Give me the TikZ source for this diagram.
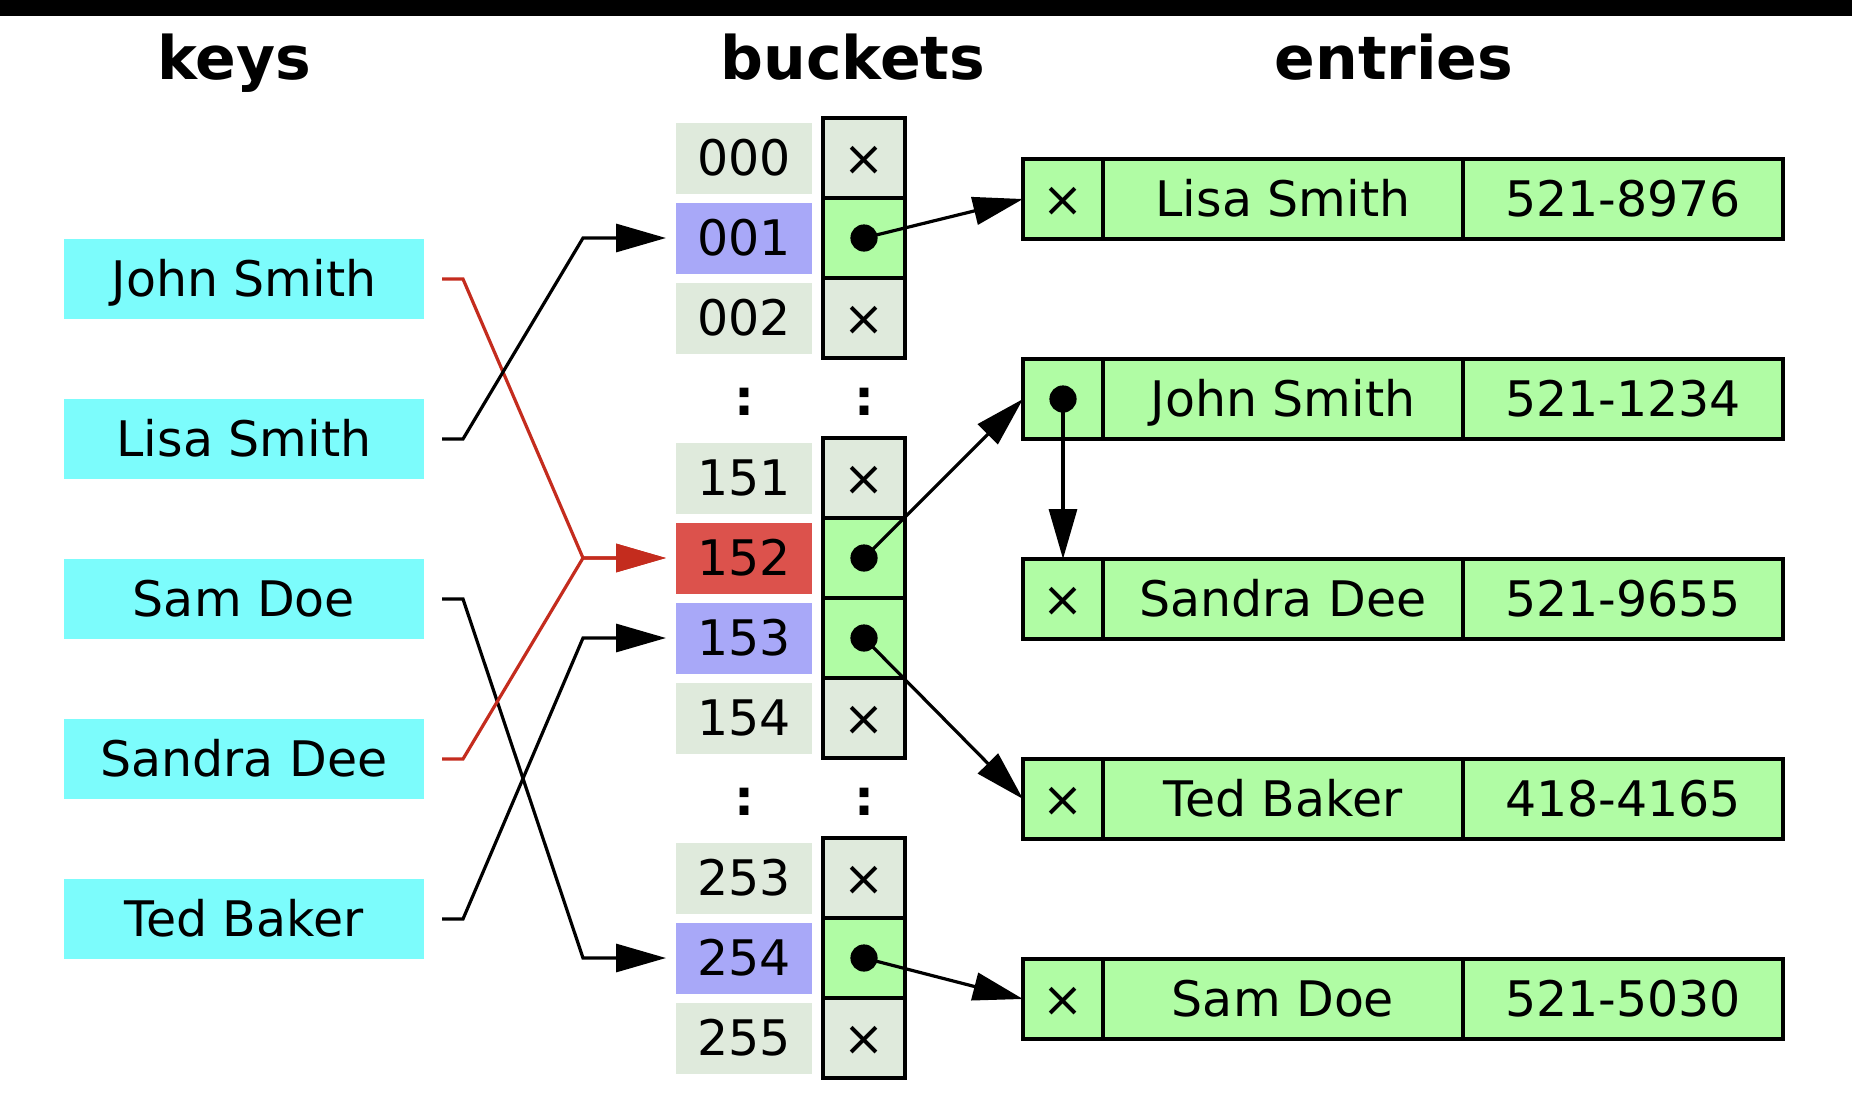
\documentclass[tikz,border=0pt]{standalone}
\usepackage{fontspec}
\setmainfont{DejaVu Sans}
\usetikzlibrary{positioning,arrows.meta}
\definecolor{keycyan}{RGB}{124,252,252}
\definecolor{idxgray}{RGB}{223,234,220}
\definecolor{idxblue}{RGB}{168,168,248}
\definecolor{idxred}{RGB}{220,82,76}
\definecolor{ptrgreen}{RGB}{176,252,164}
\definecolor{hashred}{RGB}{196,44,30}
\begin{document}
\begin{tikzpicture}[x=0.5pt,y=-0.5pt,
  txt/.style={font=\fontsize{24.5pt}{30pt}\selectfont,text height=17.9pt,text depth=0pt,inner sep=0pt,outer sep=0pt},
  title/.style={font=\fontsize{30pt}{36pt}\selectfont\bfseries,inner sep=0pt,anchor=base},
  colon/.style={font=\fontsize{25pt}{30pt}\selectfont\bfseries,inner sep=0pt,anchor=base},
  keybox/.style={txt,fill=keycyan,minimum width=180pt,minimum height=40pt},
  idx/.style={txt,minimum width=68pt,minimum height=35.5pt},
  ptr/.style={txt,draw,line width=1.6pt,minimum width=41pt,minimum height=40pt},
  cell/.style={txt,draw,fill=ptrgreen,line width=1.6pt,minimum height=40pt},
  xcell/.style={cell,minimum width=40pt},
  namecell/.style={cell,minimum width=180pt},
  telcell/.style={cell,minimum width=160pt},
  link/.style={-{Triangle[length=25pt,width=14pt]},line width=1.6pt}]
  \useasboundingbox (0,0) rectangle (1852,1092);
  \fill (0,0) rectangle (1852,16);
  % titles
  \node[title] (tkeys) at (234,79) {keys};
  \node[title] (tbuckets) at (853,79) {buckets};
  \node[title] (tentries) at (1394,79) {entries};
  % keys
  \node[keybox] (kjohn) at (244,279) {John Smith};
  \node[keybox,below=40pt of kjohn] (klisa) {Lisa Smith};
  \node[keybox,below=40pt of klisa] (ksam) {Sam Doe};
  \node[keybox,below=40pt of ksam] (ksandra) {Sandra Dee};
  \node[keybox,below=40pt of ksandra] (kted) {Ted Baker};
  % buckets
  \foreach \n/\y/\c/\f/\m in {000/158/idxgray/idxgray/×, 001/238/idxblue/ptrgreen/{},
      002/318/idxgray/idxgray/×, 151/478/idxgray/idxgray/×, 152/558/idxred/ptrgreen/{},
      153/638/idxblue/ptrgreen/{}, 154/718/idxgray/idxgray/×, 253/878/idxgray/idxgray/×,
      254/958/idxblue/ptrgreen/{}, 255/1038/idxgray/idxgray/×} {
    \node[idx,fill=\c] (i\n) at (744,\y) {\n};
    \node[ptr,fill=\f] (p\n) at (864,\y) {\m};
  }
  \node[colon] (cia) at (744,415) {:};
  \node[colon] (cpa) at (864,415) {:};
  \node[colon] (cib) at (744,815) {:};
  \node[colon] (cpb) at (864,815) {:};
  % entries
  \node[xcell] (e1x) at (1063,199) {×};
  \node[namecell,right=0pt of e1x] (e1n) {Lisa Smith};
  \node[telcell,right=0pt of e1n] (e1t) {521-8976};
  \node[xcell] (e2x) at (1063,399) {};
  \node[namecell,right=0pt of e2x] (e2n) {John Smith};
  \node[telcell,right=0pt of e2n] (e2t) {521-1234};
  \node[xcell] (e3x) at (1063,599) {×};
  \node[namecell,right=0pt of e3x] (e3n) {Sandra Dee};
  \node[telcell,right=0pt of e3n] (e3t) {521-9655};
  \node[xcell] (e4x) at (1063,799) {×};
  \node[namecell,right=0pt of e4x] (e4n) {Ted Baker};
  \node[telcell,right=0pt of e4n] (e4t) {418-4165};
  \node[xcell] (e5x) at (1063,999) {×};
  \node[namecell,right=0pt of e5x] (e5n) {Sam Doe};
  \node[telcell,right=0pt of e5n] (e5t) {521-5030};
  % hash function
  \draw[link,hashred] ([xshift=9pt]kjohn.east) -- ++(10.5pt,0) -- ([xshift=-46.5pt]i152.west) -- ([xshift=-5pt]i152.west);
  \draw[link] ([xshift=9pt]klisa.east) -- ++(10.5pt,0) -- ([xshift=-46.5pt]i001.west) -- ([xshift=-5pt]i001.west);
  \draw[link] ([xshift=9pt]ksam.east) -- ++(10.5pt,0) -- ([xshift=-46.5pt]i254.west) -- ([xshift=-5pt]i254.west);
  \draw[link,hashred] ([xshift=9pt]ksandra.east) -- ++(10.5pt,0) -- ([xshift=-46.5pt]i152.west) -- ([xshift=-5pt]i152.west);
  \draw[link] ([xshift=9pt]kted.east) -- ++(10.5pt,0) -- ([xshift=-46.5pt]i153.west) -- ([xshift=-5pt]i153.west);
  % pointers
  \draw[link] (p001.center) -- (e1x.west);
  \draw[link] (p152.center) -- (e2x.west);
  \draw[link] (p153.center) -- (e4x.west);
  \draw[link] (p254.center) -- (e5x.west);
  \draw[link] (e2x.center) -- (e3x.north);
  \foreach \p in {p001,p152,p153,p254,e2x} \fill (\p) circle (6.8pt);
\end{tikzpicture}
\end{document}
